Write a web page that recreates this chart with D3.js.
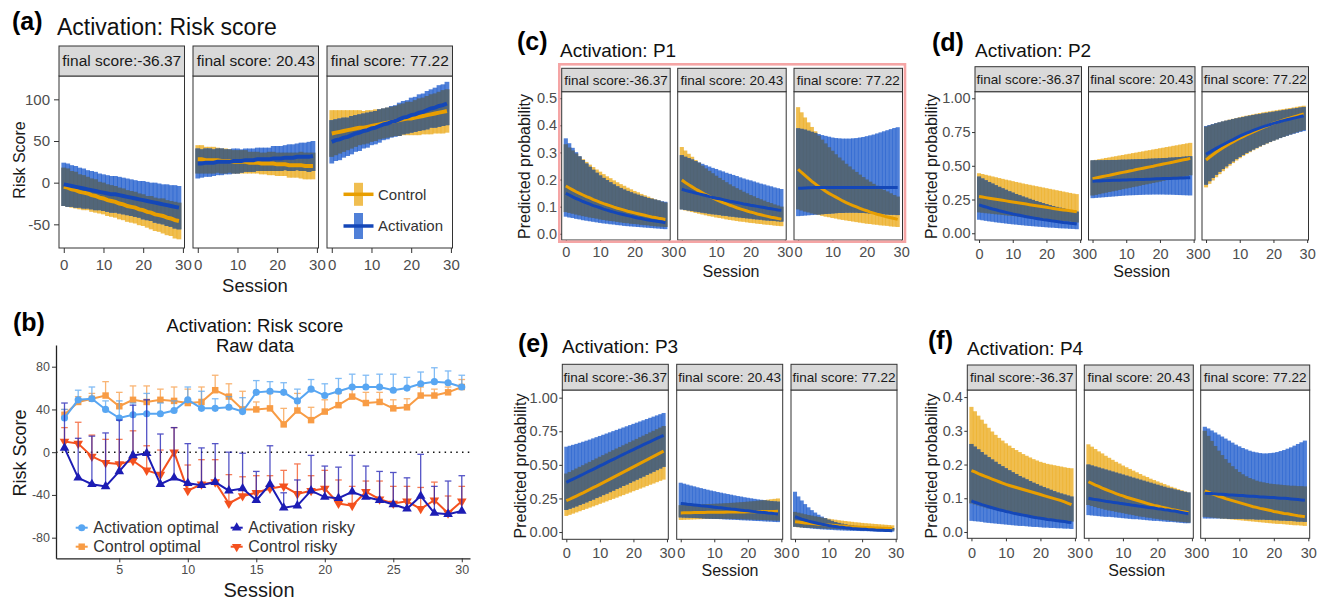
<!DOCTYPE html>
<html>
<head>
<meta charset="utf-8">
<script src="https://cdn.jsdelivr.net/npm/d3@7.9.0/dist/d3.min.js"></script>
<style>
  body { margin: 0; background: #fff; }
  svg { display: block; font-family: "Liberation Sans", Arial, sans-serif; }
</style>
</head>
<body>
<svg id="fig" width="1325" height="600"></svg>
<script>
// ---------- data ----------
const sessions = [0,1,2,3,4,5,6,7,8,9,10,11,12,13,14,15,16,17,18,19,20,21,22,23,24,25,26,27,28,29];
const facetLabels = ["final score:-36.37", "final score: 20.43", "final score: 77.22"];

// (a) risk score, one row per facet
const riskCtrlMid = [
  [-5,-6,-8,-9,-11,-12,-13,-15,-16,-18,-19,-21,-22,-23,-25,-26,-28,-29,-30,-32,-33,-35,-36,-38,-39,-40,-42,-43,-45,-46],
  [28,28,27,27,27,27,26,26,26,25,25,25,25,24,24,24,23,23,23,23,22,22,22,21,21,21,21,20,20,20],
  [59,60,61,62,63,64,65,66,66,67,68,69,70,71,72,73,74,75,76,77,77,78,79,80,81,82,83,84,85,86]];
const riskCtrlLo = [
  [-28,-29,-30,-31,-32,-33,-33,-35,-36,-37,-38,-40,-41,-42,-44,-45,-47,-48,-49,-51,-52,-54,-56,-58,-59,-61,-63,-64,-67,-68],
  [11,11,11,11,11,12,11,11,12,11,11,11,11,11,11,11,10,10,9,9,8,8,8,6,6,6,5,4,4,4],
  [31,33,35,37,39,41,43,45,46,47,49,50,52,53,54,55,56,56,57,57,57,57,57,58,58,58,59,59,59,60]];
const riskCtrlHi = [
  [18,17,14,13,10,9,7,5,4,1,0,-2,-3,-4,-6,-7,-9,-10,-11,-13,-14,-16,-16,-18,-19,-19,-21,-22,-23,-24],
  [45,45,43,43,43,42,41,41,40,39,39,39,39,37,37,37,36,36,37,37,36,36,36,36,36,36,37,36,36,36],
  [87,87,87,87,87,87,87,87,86,87,87,88,88,89,90,91,92,94,95,97,97,99,101,102,104,106,107,109,111,112]];
const riskActMid = [
  [-2,-3,-4,-5,-6,-7,-8,-9,-10,-11,-12,-13,-14,-14,-15,-16,-17,-18,-19,-20,-21,-22,-23,-24,-25,-26,-27,-28,-29,-30],
  [23,23,24,24,24,25,25,25,25,26,26,26,27,27,27,28,28,28,28,29,29,29,30,30,30,31,31,31,31,32],
  [49,51,52,54,55,57,59,60,62,63,65,66,68,70,71,73,74,76,78,79,81,82,84,85,87,89,90,92,93,95]];
const riskActLo = [
  [-28,-29,-29,-30,-30,-31,-31,-32,-33,-33,-34,-35,-36,-36,-37,-38,-39,-40,-41,-42,-44,-45,-46,-48,-49,-50,-52,-53,-55,-56],
  [5,6,7,7,8,9,9,10,10,11,11,12,13,13,13,14,14,14,14,14,14,14,15,14,14,15,14,14,13,14],
  [23,26,27,30,32,34,37,38,41,42,45,46,48,51,52,54,55,56,58,59,60,61,62,63,64,66,66,67,68,69]];
const riskActHi = [
  [24,23,21,20,18,17,15,14,13,11,10,9,8,8,7,6,5,4,3,2,2,1,0,0,-1,-2,-2,-3,-3,-4],
  [41,40,41,41,40,41,41,40,40,41,41,40,41,41,41,42,42,42,42,44,44,44,45,46,46,47,48,48,49,50],
  [75,76,77,78,78,80,81,82,83,84,85,86,88,89,90,92,93,96,98,99,102,103,106,107,110,112,114,117,118,121]];

// (c) P1
const p1CtrlMid = [
  [0.176,0.169,0.162,0.155,0.149,0.143,0.137,0.132,0.126,0.121,0.116,0.111,0.107,0.103,0.098,0.094,0.091,0.087,0.083,0.080,0.077,0.074,0.071,0.068,0.065,0.062,0.060,0.057,0.055,0.053],
  [0.198,0.189,0.181,0.173,0.165,0.158,0.151,0.144,0.138,0.132,0.126,0.120,0.115,0.110,0.105,0.101,0.096,0.092,0.088,0.084,0.080,0.077,0.073,0.070,0.067,0.064,0.061,0.059,0.056,0.054],
  [0.238,0.226,0.215,0.204,0.193,0.184,0.174,0.166,0.157,0.149,0.142,0.135,0.128,0.121,0.115,0.109,0.104,0.099,0.094,0.089,0.085,0.080,0.076,0.072,0.069,0.065,0.062,0.059,0.056,0.053]];
const p1CtrlLo = [
  [0.080,0.077,0.074,0.071,0.068,0.065,0.063,0.060,0.058,0.056,0.053,0.051,0.049,0.047,0.046,0.044,0.042,0.040,0.039,0.037,0.036,0.035,0.033,0.032,0.031,0.029,0.028,0.027,0.026,0.025],
  [0.090,0.086,0.083,0.080,0.077,0.074,0.071,0.068,0.065,0.063,0.060,0.058,0.056,0.053,0.051,0.049,0.047,0.045,0.044,0.042,0.040,0.039,0.037,0.036,0.034,0.033,0.032,0.030,0.029,0.028],
  [0.090,0.086,0.082,0.079,0.075,0.072,0.069,0.066,0.063,0.061,0.058,0.056,0.053,0.051,0.049,0.047,0.045,0.043,0.041,0.039,0.037,0.036,0.034,0.033,0.031,0.030,0.029,0.027,0.026,0.025]];
const p1CtrlHi = [
  [0.330,0.318,0.307,0.296,0.285,0.275,0.265,0.255,0.246,0.237,0.229,0.220,0.212,0.205,0.197,0.190,0.183,0.177,0.170,0.164,0.158,0.153,0.147,0.142,0.137,0.132,0.127,0.123,0.118,0.115],
  [0.320,0.307,0.295,0.284,0.272,0.262,0.251,0.241,0.232,0.223,0.214,0.206,0.198,0.190,0.182,0.175,0.168,0.162,0.155,0.149,0.143,0.138,0.132,0.127,0.122,0.117,0.113,0.108,0.104,0.100],
  [0.467,0.448,0.429,0.411,0.394,0.378,0.362,0.347,0.333,0.319,0.306,0.293,0.281,0.270,0.258,0.248,0.237,0.228,0.218,0.209,0.200,0.192,0.184,0.177,0.169,0.162,0.156,0.149,0.143,0.137]];
const p1ActMid = [
  [0.149,0.143,0.136,0.130,0.125,0.119,0.114,0.109,0.104,0.100,0.096,0.091,0.087,0.083,0.080,0.076,0.073,0.070,0.067,0.064,0.061,0.058,0.056,0.053,0.051,0.049,0.047,0.045,0.043,0.041],
  [0.164,0.160,0.157,0.154,0.150,0.147,0.144,0.141,0.137,0.134,0.131,0.129,0.126,0.123,0.120,0.118,0.115,0.113,0.110,0.108,0.105,0.103,0.101,0.099,0.097,0.094,0.092,0.090,0.088,0.087],
  [0.168,0.168,0.169,0.170,0.170,0.171,0.171,0.171,0.171,0.171,0.171,0.171,0.171,0.171,0.171,0.171,0.171,0.171,0.171,0.171,0.171,0.171,0.171,0.171,0.171,0.171,0.171,0.171,0.171,0.171]];
const p1ActLo = [
  [0.063,0.060,0.058,0.055,0.053,0.050,0.048,0.046,0.044,0.042,0.040,0.038,0.037,0.035,0.034,0.032,0.031,0.029,0.028,0.027,0.026,0.025,0.024,0.023,0.022,0.021,0.020,0.019,0.018,0.017],
  [0.090,0.088,0.086,0.084,0.082,0.080,0.078,0.076,0.074,0.072,0.071,0.069,0.067,0.066,0.064,0.063,0.061,0.060,0.058,0.057,0.056,0.054,0.053,0.052,0.050,0.049,0.048,0.047,0.046,0.045],
  [0.065,0.066,0.067,0.068,0.069,0.070,0.071,0.072,0.073,0.074,0.075,0.076,0.077,0.077,0.078,0.078,0.078,0.078,0.077,0.077,0.076,0.075,0.075,0.074,0.073,0.072,0.071,0.070,0.070,0.069]];
const p1ActHi = [
  [0.352,0.334,0.317,0.301,0.286,0.272,0.259,0.247,0.236,0.225,0.215,0.206,0.198,0.190,0.182,0.175,0.169,0.163,0.158,0.153,0.148,0.144,0.140,0.136,0.132,0.129,0.126,0.123,0.120,0.118],
  [0.290,0.284,0.279,0.274,0.268,0.263,0.258,0.253,0.248,0.243,0.239,0.234,0.230,0.225,0.221,0.217,0.213,0.208,0.204,0.200,0.197,0.193,0.189,0.185,0.182,0.178,0.175,0.171,0.168,0.165],
  [0.389,0.387,0.384,0.380,0.376,0.372,0.368,0.364,0.361,0.358,0.355,0.353,0.352,0.351,0.351,0.351,0.352,0.353,0.355,0.357,0.360,0.363,0.366,0.370,0.374,0.378,0.382,0.386,0.390,0.393]];

// (d) P2
const p2CtrlMid = [
  [0.272,0.268,0.264,0.260,0.256,0.252,0.248,0.244,0.240,0.236,0.232,0.228,0.224,0.220,0.216,0.212,0.208,0.204,0.200,0.196,0.192,0.188,0.184,0.180,0.176,0.173,0.170,0.167,0.163,0.160],
  [0.405,0.410,0.415,0.420,0.425,0.430,0.436,0.441,0.446,0.451,0.456,0.461,0.466,0.472,0.477,0.482,0.487,0.492,0.497,0.503,0.508,0.513,0.518,0.523,0.528,0.534,0.539,0.544,0.549,0.555],
  [0.543,0.563,0.582,0.600,0.617,0.633,0.648,0.663,0.677,0.691,0.704,0.716,0.728,0.740,0.751,0.762,0.773,0.784,0.794,0.805,0.815,0.823,0.831,0.839,0.847,0.854,0.862,0.869,0.877,0.884]];
const p2CtrlLo = [
  [0.155,0.152,0.149,0.147,0.144,0.141,0.139,0.136,0.133,0.131,0.128,0.126,0.123,0.121,0.118,0.116,0.113,0.111,0.108,0.106,0.103,0.101,0.098,0.096,0.093,0.091,0.088,0.086,0.083,0.080],
  [0.280,0.285,0.290,0.296,0.301,0.306,0.311,0.316,0.321,0.327,0.332,0.337,0.342,0.347,0.352,0.358,0.363,0.368,0.373,0.378,0.383,0.389,0.394,0.399,0.404,0.409,0.414,0.420,0.425,0.430],
  [0.340,0.366,0.391,0.415,0.438,0.460,0.481,0.501,0.520,0.539,0.556,0.572,0.587,0.601,0.615,0.628,0.641,0.653,0.664,0.675,0.686,0.696,0.706,0.715,0.724,0.733,0.741,0.749,0.757,0.765]];
const p2CtrlHi = [
  [0.445,0.439,0.433,0.427,0.421,0.415,0.409,0.403,0.397,0.392,0.386,0.380,0.375,0.369,0.364,0.359,0.354,0.349,0.344,0.339,0.334,0.329,0.324,0.319,0.314,0.309,0.304,0.299,0.294,0.290],
  [0.540,0.544,0.549,0.553,0.558,0.562,0.567,0.571,0.576,0.580,0.585,0.589,0.594,0.598,0.603,0.607,0.612,0.616,0.621,0.625,0.630,0.634,0.639,0.643,0.648,0.652,0.657,0.661,0.666,0.670],
  [0.790,0.798,0.806,0.814,0.821,0.828,0.835,0.842,0.848,0.854,0.860,0.866,0.871,0.876,0.881,0.886,0.891,0.896,0.900,0.904,0.908,0.912,0.916,0.920,0.924,0.928,0.932,0.937,0.941,0.945]];
const p2ActMid = [
  [0.210,0.202,0.195,0.187,0.180,0.174,0.167,0.161,0.155,0.149,0.143,0.138,0.133,0.128,0.123,0.118,0.114,0.110,0.105,0.101,0.098,0.094,0.090,0.087,0.084,0.080,0.077,0.074,0.072,0.069],
  [0.386,0.387,0.388,0.389,0.390,0.391,0.392,0.392,0.393,0.394,0.395,0.396,0.397,0.398,0.399,0.399,0.400,0.401,0.402,0.403,0.404,0.405,0.406,0.406,0.407,0.408,0.409,0.410,0.411,0.412],
  [0.585,0.600,0.615,0.629,0.643,0.656,0.669,0.682,0.694,0.707,0.720,0.731,0.742,0.752,0.762,0.772,0.781,0.790,0.798,0.806,0.814,0.821,0.828,0.835,0.841,0.847,0.853,0.859,0.865,0.871]];
const p2ActLo = [
  [0.100,0.096,0.092,0.088,0.085,0.081,0.078,0.075,0.072,0.069,0.066,0.064,0.061,0.059,0.056,0.054,0.052,0.050,0.048,0.046,0.044,0.042,0.041,0.039,0.037,0.036,0.035,0.033,0.032,0.030],
  [0.260,0.262,0.264,0.266,0.268,0.270,0.272,0.274,0.276,0.278,0.280,0.281,0.282,0.283,0.284,0.285,0.286,0.286,0.287,0.287,0.287,0.287,0.286,0.286,0.285,0.284,0.283,0.282,0.281,0.280],
  [0.360,0.386,0.410,0.433,0.455,0.476,0.496,0.515,0.533,0.550,0.566,0.581,0.595,0.608,0.621,0.633,0.645,0.656,0.667,0.677,0.687,0.696,0.705,0.714,0.722,0.730,0.737,0.744,0.751,0.757]];
const p2ActHi = [
  [0.420,0.406,0.393,0.380,0.368,0.356,0.344,0.333,0.322,0.311,0.301,0.291,0.282,0.272,0.264,0.255,0.247,0.239,0.231,0.223,0.216,0.209,0.202,0.195,0.189,0.183,0.177,0.171,0.165,0.160],
  [0.540,0.540,0.541,0.541,0.542,0.542,0.543,0.543,0.544,0.545,0.545,0.546,0.547,0.548,0.549,0.550,0.551,0.552,0.553,0.554,0.555,0.557,0.558,0.560,0.561,0.563,0.565,0.567,0.569,0.571],
  [0.795,0.802,0.809,0.816,0.822,0.828,0.834,0.840,0.846,0.851,0.856,0.861,0.866,0.871,0.876,0.880,0.884,0.888,0.892,0.896,0.900,0.904,0.908,0.912,0.916,0.920,0.924,0.928,0.932,0.936]];

// (e) P3
const p3CtrlMid = [
  [0.233,0.244,0.256,0.268,0.280,0.292,0.305,0.317,0.330,0.342,0.355,0.368,0.381,0.394,0.407,0.420,0.433,0.446,0.459,0.472,0.485,0.498,0.511,0.524,0.537,0.550,0.563,0.576,0.589,0.602],
  [0.142,0.143,0.144,0.144,0.145,0.145,0.146,0.146,0.147,0.147,0.147,0.148,0.148,0.148,0.149,0.149,0.149,0.150,0.150,0.150,0.151,0.151,0.151,0.152,0.152,0.152,0.153,0.153,0.153,0.154],
  [0.077,0.074,0.071,0.068,0.066,0.063,0.061,0.058,0.056,0.054,0.052,0.050,0.048,0.046,0.045,0.043,0.041,0.040,0.038,0.037,0.036,0.034,0.033,0.032,0.031,0.030,0.029,0.028,0.027,0.026]];
const p3CtrlLo = [
  [0.120,0.128,0.137,0.146,0.155,0.164,0.173,0.182,0.191,0.200,0.210,0.219,0.228,0.238,0.247,0.256,0.266,0.275,0.285,0.294,0.304,0.313,0.323,0.332,0.342,0.352,0.361,0.371,0.381,0.390],
  [0.090,0.091,0.092,0.093,0.094,0.095,0.096,0.097,0.097,0.098,0.098,0.098,0.098,0.098,0.098,0.097,0.097,0.096,0.096,0.095,0.094,0.093,0.092,0.091,0.090,0.089,0.088,0.087,0.086,0.085],
  [0.038,0.036,0.035,0.033,0.032,0.031,0.029,0.028,0.027,0.026,0.025,0.024,0.023,0.022,0.021,0.020,0.019,0.019,0.018,0.017,0.017,0.016,0.015,0.015,0.014,0.014,0.013,0.013,0.012,0.012]];
const p3CtrlHi = [
  [0.435,0.447,0.460,0.472,0.485,0.497,0.510,0.522,0.535,0.547,0.560,0.572,0.584,0.597,0.609,0.621,0.633,0.645,0.657,0.669,0.681,0.693,0.705,0.717,0.729,0.741,0.753,0.765,0.777,0.789],
  [0.200,0.201,0.202,0.203,0.204,0.205,0.206,0.207,0.208,0.209,0.210,0.211,0.212,0.214,0.215,0.217,0.218,0.220,0.222,0.224,0.226,0.228,0.230,0.233,0.235,0.238,0.241,0.244,0.247,0.250],
  [0.150,0.144,0.138,0.132,0.127,0.122,0.117,0.112,0.107,0.103,0.099,0.095,0.092,0.088,0.085,0.082,0.079,0.076,0.073,0.071,0.068,0.066,0.064,0.062,0.060,0.058,0.056,0.054,0.052,0.050]];
const p3ActMid = [
  [0.370,0.382,0.394,0.406,0.418,0.430,0.443,0.455,0.467,0.479,0.492,0.504,0.517,0.529,0.541,0.553,0.566,0.578,0.590,0.602,0.614,0.626,0.638,0.650,0.662,0.673,0.685,0.697,0.708,0.720],
  [0.213,0.210,0.207,0.205,0.202,0.199,0.196,0.194,0.191,0.188,0.185,0.182,0.180,0.177,0.174,0.171,0.169,0.166,0.163,0.160,0.158,0.155,0.152,0.150,0.147,0.145,0.142,0.140,0.137,0.134],
  [0.114,0.105,0.096,0.089,0.081,0.075,0.069,0.063,0.058,0.054,0.049,0.045,0.042,0.038,0.035,0.032,0.030,0.027,0.025,0.023,0.021,0.020,0.018,0.017,0.015,0.014,0.013,0.012,0.011,0.010]];
const p3ActLo = [
  [0.164,0.173,0.182,0.191,0.201,0.211,0.221,0.231,0.242,0.253,0.264,0.275,0.286,0.297,0.308,0.320,0.331,0.343,0.354,0.366,0.378,0.390,0.401,0.413,0.425,0.437,0.449,0.461,0.473,0.485],
  [0.109,0.108,0.107,0.106,0.105,0.104,0.103,0.101,0.100,0.099,0.098,0.097,0.096,0.094,0.093,0.092,0.091,0.090,0.088,0.087,0.086,0.085,0.083,0.082,0.081,0.079,0.078,0.077,0.075,0.074],
  [0.040,0.037,0.034,0.031,0.029,0.026,0.024,0.022,0.020,0.019,0.017,0.016,0.014,0.013,0.012,0.011,0.010,0.009,0.009,0.008,0.007,0.007,0.006,0.006,0.005,0.005,0.004,0.004,0.004,0.003]];
const p3ActHi = [
  [0.635,0.642,0.649,0.656,0.664,0.672,0.680,0.688,0.697,0.706,0.715,0.724,0.733,0.742,0.751,0.760,0.769,0.778,0.787,0.796,0.805,0.814,0.823,0.832,0.841,0.850,0.859,0.868,0.877,0.886],
  [0.367,0.360,0.353,0.346,0.340,0.333,0.327,0.321,0.315,0.309,0.304,0.298,0.293,0.288,0.283,0.278,0.273,0.268,0.264,0.259,0.255,0.251,0.247,0.243,0.240,0.236,0.233,0.230,0.228,0.226],
  [0.300,0.265,0.235,0.208,0.184,0.163,0.145,0.129,0.115,0.103,0.092,0.083,0.075,0.068,0.062,0.057,0.053,0.049,0.046,0.043,0.041,0.039,0.037,0.035,0.034,0.033,0.032,0.031,0.030,0.030]];

// (f) P4
const p4CtrlMid = [
  [0.182,0.178,0.173,0.169,0.165,0.161,0.157,0.153,0.149,0.145,0.141,0.138,0.135,0.132,0.129,0.126,0.123,0.120,0.117,0.114,0.111,0.108,0.105,0.102,0.099,0.096,0.093,0.089,0.085,0.081],
  [0.149,0.144,0.139,0.135,0.130,0.126,0.122,0.118,0.114,0.110,0.107,0.103,0.100,0.097,0.094,0.091,0.088,0.085,0.082,0.079,0.077,0.074,0.072,0.070,0.067,0.065,0.063,0.061,0.059,0.057],
  [0.122,0.118,0.114,0.110,0.106,0.103,0.099,0.096,0.093,0.090,0.087,0.084,0.081,0.078,0.075,0.073,0.070,0.068,0.066,0.064,0.061,0.059,0.057,0.055,0.054,0.052,0.050,0.048,0.047,0.045]];
const p4CtrlLo = [
  [0.085,0.082,0.079,0.076,0.073,0.070,0.068,0.066,0.064,0.062,0.060,0.058,0.056,0.054,0.052,0.050,0.049,0.047,0.046,0.044,0.043,0.041,0.040,0.038,0.037,0.036,0.034,0.033,0.032,0.031],
  [0.080,0.077,0.074,0.071,0.069,0.066,0.064,0.062,0.060,0.058,0.056,0.054,0.052,0.050,0.048,0.046,0.045,0.043,0.042,0.040,0.039,0.037,0.036,0.035,0.033,0.032,0.031,0.030,0.029,0.028],
  [0.045,0.044,0.043,0.042,0.041,0.040,0.039,0.038,0.037,0.036,0.035,0.034,0.033,0.032,0.031,0.030,0.029,0.028,0.027,0.026,0.025,0.024,0.024,0.023,0.022,0.021,0.020,0.020,0.019,0.018]];
const p4CtrlHi = [
  [0.371,0.358,0.345,0.333,0.321,0.309,0.298,0.288,0.279,0.271,0.263,0.256,0.249,0.243,0.237,0.231,0.226,0.221,0.216,0.212,0.208,0.205,0.202,0.200,0.198,0.196,0.194,0.192,0.190,0.189],
  [0.260,0.253,0.246,0.239,0.233,0.226,0.220,0.214,0.208,0.203,0.197,0.192,0.187,0.182,0.177,0.172,0.167,0.163,0.158,0.154,0.150,0.146,0.142,0.138,0.134,0.131,0.127,0.124,0.120,0.117],
  [0.300,0.285,0.270,0.255,0.241,0.228,0.216,0.205,0.195,0.186,0.178,0.171,0.165,0.160,0.156,0.152,0.149,0.147,0.145,0.143,0.142,0.141,0.140,0.139,0.138,0.137,0.137,0.136,0.136,0.135]];
const p4ActMid = [
  [0.092,0.088,0.085,0.081,0.078,0.075,0.072,0.069,0.066,0.064,0.061,0.059,0.056,0.054,0.052,0.050,0.048,0.046,0.044,0.042,0.041,0.039,0.037,0.036,0.035,0.033,0.032,0.031,0.029,0.028],
  [0.100,0.098,0.096,0.095,0.093,0.091,0.090,0.088,0.087,0.085,0.084,0.082,0.081,0.079,0.078,0.076,0.075,0.073,0.072,0.071,0.069,0.068,0.066,0.065,0.063,0.062,0.060,0.058,0.056,0.054],
  [0.115,0.114,0.114,0.113,0.112,0.112,0.111,0.110,0.110,0.109,0.108,0.108,0.107,0.106,0.106,0.105,0.104,0.104,0.103,0.102,0.102,0.101,0.100,0.100,0.099,0.098,0.097,0.096,0.095,0.094]];
const p4ActLo = [
  [0.033,0.032,0.031,0.030,0.028,0.027,0.026,0.025,0.024,0.023,0.022,0.021,0.020,0.019,0.018,0.018,0.017,0.016,0.015,0.015,0.014,0.013,0.013,0.012,0.012,0.011,0.011,0.010,0.010,0.009],
  [0.050,0.049,0.048,0.047,0.046,0.045,0.045,0.044,0.043,0.042,0.041,0.040,0.039,0.038,0.038,0.037,0.036,0.035,0.034,0.033,0.033,0.032,0.031,0.030,0.030,0.029,0.028,0.027,0.026,0.026],
  [0.040,0.040,0.040,0.040,0.040,0.040,0.040,0.039,0.039,0.039,0.039,0.039,0.038,0.038,0.038,0.037,0.037,0.037,0.036,0.036,0.035,0.035,0.034,0.034,0.033,0.033,0.032,0.031,0.031,0.030]];
const p4ActHi = [
  [0.261,0.253,0.245,0.237,0.229,0.222,0.215,0.208,0.201,0.195,0.189,0.183,0.177,0.172,0.166,0.161,0.156,0.151,0.146,0.142,0.137,0.133,0.129,0.125,0.121,0.117,0.114,0.111,0.108,0.105],
  [0.200,0.197,0.194,0.191,0.188,0.185,0.182,0.179,0.176,0.173,0.170,0.167,0.164,0.161,0.158,0.155,0.152,0.149,0.146,0.143,0.140,0.137,0.134,0.131,0.129,0.126,0.124,0.121,0.119,0.117],
  [0.312,0.307,0.301,0.295,0.289,0.283,0.277,0.271,0.265,0.259,0.254,0.249,0.245,0.241,0.238,0.236,0.234,0.233,0.233,0.234,0.235,0.237,0.240,0.243,0.247,0.251,0.256,0.261,0.266,0.271]];

// (b) raw data
const rawSessions = [1,2,3,4,5,6,7,8,9,10,11,12,13,14,15,16,17,18,19,20,21,22,23,24,25,26,27,28,29,30];
const actOptMean  = [32,49,50,40,32,35,36,36,39,49,41,41,42,38,56,57,56,48,59,53,57,61,61,61,58,60,64,66,65,61];
const actOptUpper = [40,58,61,48,48,46,55,46,48,61,57,50,52,51,67,66,65,59,68,64,69,73,72,73,73,70,75,79,76,72];
const ctrlOptMean  = [35,47,50,53,43,49,47,49,48,46,47,58,52,40,40,41,26,39,30,38,44,52,46,47,41,42,53,53,56,61];
const ctrlOptUpper = [40,52,55,66,56,62,62,59,61,59,61,72,64,57,47,55,41,55,42,49,55,61,56,56,49,50,61,59,61,68];
const actRiskyMean  = [4,-24,-30,-32,-18,-3,-1,-30,-24,-29,-31,-28,-36,-34,-45,-30,-52,-50,-36,-42,-43,-37,-42,-45,-49,-53,-41,-57,-58,-55];
const actRiskyUpper = [46,13,15,18,30,44,49,17,23,8,4,8,0,-1,-18,6,-38,-26,-3,-13,-14,-3,-13,-18,-19,-24,-2,-32,-27,-22];
const ctrlRiskyMean  = [10,8,-4,-10,-11,-8,-17,-21,0,-36,-30,-28,-48,-41,-38,-34,-32,-39,-36,-34,-48,-50,-37,-44,-48,-46,-53,-45,-57,-46];
const ctrlRiskyUpper = [23,28,16,12,12,20,6,2,23,-12,-7,-7,-21,-23,-22,-22,-17,-11,-22,-17,-26,-32,-27,-27,-32,-32,-33,-28,-41,-32];

// ---------- styling ----------
const CTRL_BAND = "#ECAE24", ACT_BAND = "#2460CE", BOTH_BAND = "#54646E";
const CTRL_LINE = "#E89E00", ACT_LINE = "#1447B8";
const TICK_GREY = "#4d4d4d", INK = "#1a1a1a";
const xDomain = [-1.2, 30.4];
const xTicks = [0, 10, 20, 30];

const svg = d3.select("#fig");

function styleAxis(ax, fs) {
  ax.attr("font-family", null).attr("font-size", null);
  ax.selectAll("text").attr("fill", TICK_GREY).style("font-size", fs + "px");
  ax.selectAll("line").attr("stroke", "#333");
}

function facetPanel(p) {
  const g = svg.append("g");
  const y = d3.scaleLinear().domain(p.yDomain).range([p.bottom, p.top]);
  p.lefts.forEach((left, i) => {
    const x = d3.scaleLinear().domain(xDomain).range([left, left + p.width]);
    const bw = (x(1) - x(0)) * 1.2;
    const groups = [
      { mid: p.ctrl[0][i], lo: p.ctrl[1][i], hi: p.ctrl[2][i], fill: CTRL_BAND, stroke: CTRL_LINE },
      { mid: p.act[0][i],  lo: p.act[1][i],  hi: p.act[2][i],  fill: ACT_BAND,  stroke: ACT_LINE }
    ];
    groups.forEach(gr => {
      g.append("g").selectAll("rect").data(sessions).join("rect")
        .attr("x", s => x(s) - bw / 2).attr("width", bw)
        .attr("y", (s, k) => y(gr.hi[k]))
        .attr("height", (s, k) => y(gr.lo[k]) - y(gr.hi[k]))
        .attr("fill", gr.fill).attr("fill-opacity", 0.8);
    });
    // where the two intervals overlap
    const [c, a] = groups;
    const both = sessions.map((s, k) => ({ s, lo: Math.max(c.lo[k], a.lo[k]), hi: Math.min(c.hi[k], a.hi[k]) }))
      .filter(d => d.hi > d.lo);
    g.append("g").selectAll("rect").data(both).join("rect")
      .attr("x", d => x(d.s) - bw / 2).attr("width", bw)
      .attr("y", d => y(d.hi)).attr("height", d => y(d.lo) - y(d.hi))
      .attr("fill", BOTH_BAND).attr("fill-opacity", 0.85);

    const line = d3.line().x((d, k) => x(sessions[k])).y(d => y(d));
    groups.forEach(gr => {
      g.append("path").datum(gr.mid).attr("d", line)
        .attr("fill", "none").attr("stroke", gr.stroke).attr("stroke-width", p.lineW);
    });

    g.append("rect").attr("x", left).attr("y", p.top).attr("width", p.width).attr("height", p.bottom - p.top)
      .attr("fill", "none").attr("stroke", "#333").attr("stroke-width", 1);
    // strip
    g.append("rect").attr("x", left).attr("y", p.stripTop).attr("width", p.width).attr("height", p.top - p.stripTop)
      .attr("fill", "#d9d9d9").attr("stroke", "#333").attr("stroke-width", 1);
    g.append("text").attr("x", left + p.width / 2).attr("y", (p.stripTop + p.top) / 2 + p.stripFs * 0.35)
      .attr("text-anchor", "middle").attr("fill", INK).style("font-size", p.stripFs + "px")
      .text(facetLabels[i]);

    const xa = g.append("g").attr("transform", `translate(0,${p.bottom})`)
      .call(d3.axisBottom(x).tickValues(xTicks).tickSize(p.tick).tickPadding(p.xPad));
    xa.select(".domain").remove();
    styleAxis(xa, p.tickFs);
  });

  const ya = g.append("g").attr("transform", `translate(${p.lefts[0]},0)`)
    .call(d3.axisLeft(y).tickValues(p.yTicks).tickFormat(p.fmt).tickSize(p.tick).tickPadding(p.yPad));
  ya.select(".domain").remove();
  styleAxis(ya, p.tickFs);

  // titles and labels
  g.append("text").attr("x", p.tag[0]).attr("y", p.tag[1]).attr("font-weight", "bold")
    .style("font-size", "25px").attr("fill", "#000").text(p.tagText);
  g.append("text").attr("x", p.title[0]).attr("y", p.title[1]).style("font-size", p.titleFs + "px")
    .attr("fill", "#111").text(p.titleText);
  g.append("text").attr("x", p.xLab[0]).attr("y", p.xLab[1] + p.xLabFs * 0.35).attr("text-anchor", "middle")
    .style("font-size", p.xLabFs + "px").attr("fill", INK).text("Session");
  g.append("text").attr("transform", `translate(${p.yLab[0]},${p.yLab[1]}) rotate(-90)`)
    .attr("dy", "0.35em").attr("text-anchor", "middle")
    .style("font-size", p.yLabFs + "px").attr("fill", INK).text(p.yLabText);
  return { g, y };
}

const f1 = d3.format(".1f"), f2 = d3.format(".2f");
const plain = d => String(d);

// (a)
const pa = facetPanel({
  lefts: [59, 193, 327], width: 125.5, stripTop: 46, top: 76, bottom: 248,
  yDomain: [-78.4, 128], yTicks: [-50, 0, 50, 100], fmt: plain,
  ctrl: [riskCtrlMid, riskCtrlLo, riskCtrlHi], act: [riskActMid, riskActLo, riskActHi],
  lineW: 4, stripFs: 15.5, tick: 5, xPad: 6.5, yPad: 4, tickFs: 15,
  tag: [12, 29.5], tagText: "(a)", title: [57, 35], titleFs: 23, titleText: "Activation: Risk score",
  xLab: [255, 286], xLabFs: 18.5, yLab: [19, 160], yLabFs: 16, yLabText: "Risk Score"
});

// legend inside (a)
const legendA = [
  { label: "Control", fill: CTRL_BAND, stroke: CTRL_LINE, y: 194.3, h: 23 },
  { label: "Activation", fill: ACT_BAND, stroke: ACT_LINE, y: 226, h: 26 }
];
legendA.forEach(d => {
  pa.g.append("rect").attr("x", 354).attr("y", d.y - d.h / 2).attr("width", 9).attr("height", d.h)
    .attr("fill", d.fill).attr("fill-opacity", 0.8);
  pa.g.append("line").attr("x1", 343.5).attr("x2", 373.5).attr("y1", d.y).attr("y2", d.y)
    .attr("stroke", d.stroke).attr("stroke-width", 3.5);
  pa.g.append("text").attr("x", 378).attr("y", d.y + 5.3).style("font-size", "15px").attr("fill", "#333").text(d.label);
});

// (c)
const pc = facetPanel({
  lefts: [561.7, 677.7, 794], width: 108.5, stripTop: 68.3, top: 91.7, bottom: 240,
  yDomain: [-0.023, 0.524], yTicks: [0, 0.1, 0.2, 0.3, 0.4, 0.5], fmt: f1,
  ctrl: [p1CtrlMid, p1CtrlLo, p1CtrlHi], act: [p1ActMid, p1ActLo, p1ActHi],
  lineW: 3, stripFs: 13.5, tick: 3, xPad: 3.6, yPad: 1.5, tickFs: 14.5,
  tag: [517, 49.5], tagText: "(c)", title: [560, 56.7], titleFs: 19, titleText: "Activation: P1",
  xLab: [731, 271.7], xLabFs: 16, yLab: [524, 166.5], yLabFs: 16, yLabText: "Predicted probability"
});
pc.g.append("rect").attr("x", 559.3).attr("y", 64.3).attr("width", 345.7).attr("height", 177.4)
  .attr("fill", "none").attr("stroke", "#F5A5A5").attr("stroke-width", 2.6);

// (d)
facetPanel({
  lefts: [975, 1088.5, 1202], width: 106.5, stripTop: 66.7, top: 91.7, bottom: 240,
  yDomain: [-0.05, 1.049], yTicks: [0, 0.25, 0.5, 0.75, 1], fmt: f2,
  ctrl: [p2CtrlMid, p2CtrlLo, p2CtrlHi], act: [p2ActMid, p2ActLo, p2ActHi],
  lineW: 3, stripFs: 13.5, tick: 3, xPad: 5.9, yPad: 1.5, tickFs: 14.5,
  tag: [932, 50.5], tagText: "(d)", title: [975, 57], titleFs: 19, titleText: "Activation: P2",
  xLab: [1141.7, 271.7], xLabFs: 16, yLab: [931, 166.5], yLabFs: 16, yLabText: "Predicted probability"
});

// (e)
facetPanel({
  lefts: [562.3, 676.7, 791], width: 106, stripTop: 364.3, top: 390, bottom: 539.3,
  yDomain: [-0.054, 1.057], yTicks: [0, 0.25, 0.5, 0.75, 1], fmt: f2,
  ctrl: [p3CtrlMid, p3CtrlLo, p3CtrlHi], act: [p3ActMid, p3ActLo, p3ActHi],
  lineW: 3, stripFs: 13.5, tick: 3, xPad: 5.9, yPad: 1.5, tickFs: 14.5,
  tag: [518, 351.5], tagText: "(e)", title: [562, 353.3], titleFs: 19, titleText: "Activation: P3",
  xLab: [730, 570], xLabFs: 16, yLab: [520, 466], yLabFs: 16, yLabText: "Predicted probability"
});

// (f)
facetPanel({
  lefts: [967.3, 1084.3, 1200.7], width: 109, stripTop: 365, top: 390, bottom: 538.3,
  yDomain: [-0.0187, 0.421], yTicks: [0, 0.1, 0.2, 0.3, 0.4], fmt: f1,
  ctrl: [p4CtrlMid, p4CtrlLo, p4CtrlHi], act: [p4ActMid, p4ActLo, p4ActHi],
  lineW: 3, stripFs: 13.5, tick: 3, xPad: 6.9, yPad: 1.5, tickFs: 14.5,
  tag: [928, 349], tagText: "(f)", title: [967, 355], titleFs: 19, titleText: "Activation: P4",
  xLab: [1136.7, 570], xLabFs: 16, yLab: [931, 466], yLabFs: 16, yLabText: "Predicted probability"
});

// ---------- (b) raw data ----------
const gb = svg.append("g");
const xb = d3.scaleLinear().domain([0.38, 30.6]).range([56, 470]);
const yb = d3.scaleLinear().domain([-99.3, 100.3]).range([558.3, 345]);

const rawSeries = [
  { key: "co", label: "Control optimal", mean: ctrlOptMean, upper: ctrlOptUpper, color: "#F89C45", shape: d3.symbolSquare, rot: 0, size: 42 },
  { key: "ao", label: "Activation optimal", mean: actOptMean, upper: actOptUpper, color: "#58A6F2", shape: d3.symbolCircle, rot: 0, size: 40 },
  { key: "cr", label: "Control risky", mean: ctrlRiskyMean, upper: ctrlRiskyUpper, color: "#F4511E", shape: d3.symbolTriangle, rot: 180, size: 40 },
  { key: "ar", label: "Activation risky", mean: actRiskyMean, upper: actRiskyUpper, color: "#1C1CB4", shape: d3.symbolTriangle, rot: 0, size: 40 }
];

// dotted zero reference
gb.append("line").attr("x1", 56).attr("x2", 470).attr("y1", yb(0)).attr("y2", yb(0))
  .attr("stroke", "#111").attr("stroke-width", 1.6).attr("stroke-dasharray", "1.5,4.3");

rawSeries.forEach(s => {
  const eg = gb.append("g").attr("stroke", s.color).attr("stroke-width", 1.3).attr("opacity", 0.75);
  rawSessions.forEach((t, k) => {
    eg.append("line").attr("x1", xb(t)).attr("x2", xb(t)).attr("y1", yb(s.mean[k])).attr("y2", yb(s.upper[k]));
    eg.append("line").attr("x1", xb(t) - 3.3).attr("x2", xb(t) + 3.3).attr("y1", yb(s.upper[k])).attr("y2", yb(s.upper[k]));
  });
  gb.append("path").datum(s.mean)
    .attr("d", d3.line().x((d, k) => xb(rawSessions[k])).y(d => yb(d)))
    .attr("fill", "none").attr("stroke", s.color).attr("stroke-width", 2);
  gb.append("g").selectAll("path").data(s.mean).join("path")
    .attr("d", d3.symbol(s.shape, s.size))
    .attr("transform", (d, k) => `translate(${xb(rawSessions[k])},${yb(d)}) rotate(${s.rot})`)
    .attr("fill", s.color);
});

const xbAxis = gb.append("g").attr("transform", "translate(0,558.3)")
  .call(d3.axisBottom(xb).tickValues([5, 10, 15, 20, 25, 30]).tickSize(4).tickSizeOuter(0).tickPadding(3.3));
styleAxis(xbAxis, 12.5);
xbAxis.select(".domain").attr("stroke", "#222").attr("stroke-width", 1.3);
const ybAxis = gb.append("g").attr("transform", "translate(56,0)")
  .call(d3.axisLeft(yb).tickValues([-80, -40, 0, 40, 80]).tickFormat(plain).tickSize(4).tickSizeOuter(0).tickPadding(2));
styleAxis(ybAxis, 12.5);
ybAxis.select(".domain").attr("stroke", "#222").attr("stroke-width", 1.3);

gb.append("text").attr("x", 13).attr("y", 330.5).attr("font-weight", "bold").style("font-size", "25px").text("(b)");
gb.append("text").attr("x", 255).attr("y", 331.6).attr("text-anchor", "middle").style("font-size", "18.5px").attr("fill", "#111")
  .text("Activation: Risk score");
gb.append("text").attr("x", 255).attr("y", 351.6).attr("text-anchor", "middle").style("font-size", "18.5px").attr("fill", "#111")
  .text("Raw data");
gb.append("text").attr("x", 259).attr("y", 597).attr("text-anchor", "middle").style("font-size", "20px").attr("fill", INK)
  .text("Session");
gb.append("text").attr("transform", "translate(20,453) rotate(-90)").attr("dy", "0.35em").attr("text-anchor", "middle")
  .style("font-size", "18px").attr("fill", INK).text("Risk Score");

const legendB = [
  { key: "ao", x: 81.7, y: 527.7 }, { key: "co", x: 81.7, y: 546.7 },
  { key: "ar", x: 236.7, y: 527.7 }, { key: "cr", x: 236.7, y: 546.7 }
];
legendB.forEach(l => {
  const s = rawSeries.find(r => r.key === l.key);
  gb.append("line").attr("x1", l.x - 6).attr("x2", l.x + 6).attr("y1", l.y).attr("y2", l.y)
    .attr("stroke", s.color).attr("stroke-width", 2);
  gb.append("path").attr("d", d3.symbol(s.shape, s.size))
    .attr("transform", `translate(${l.x},${l.y}) rotate(${s.rot})`).attr("fill", s.color);
  gb.append("text").attr("x", l.x + 11.6).attr("y", l.y + 5.6).style("font-size", "16px").attr("fill", "#333").text(s.label);
});
</script>
</body>
</html>
